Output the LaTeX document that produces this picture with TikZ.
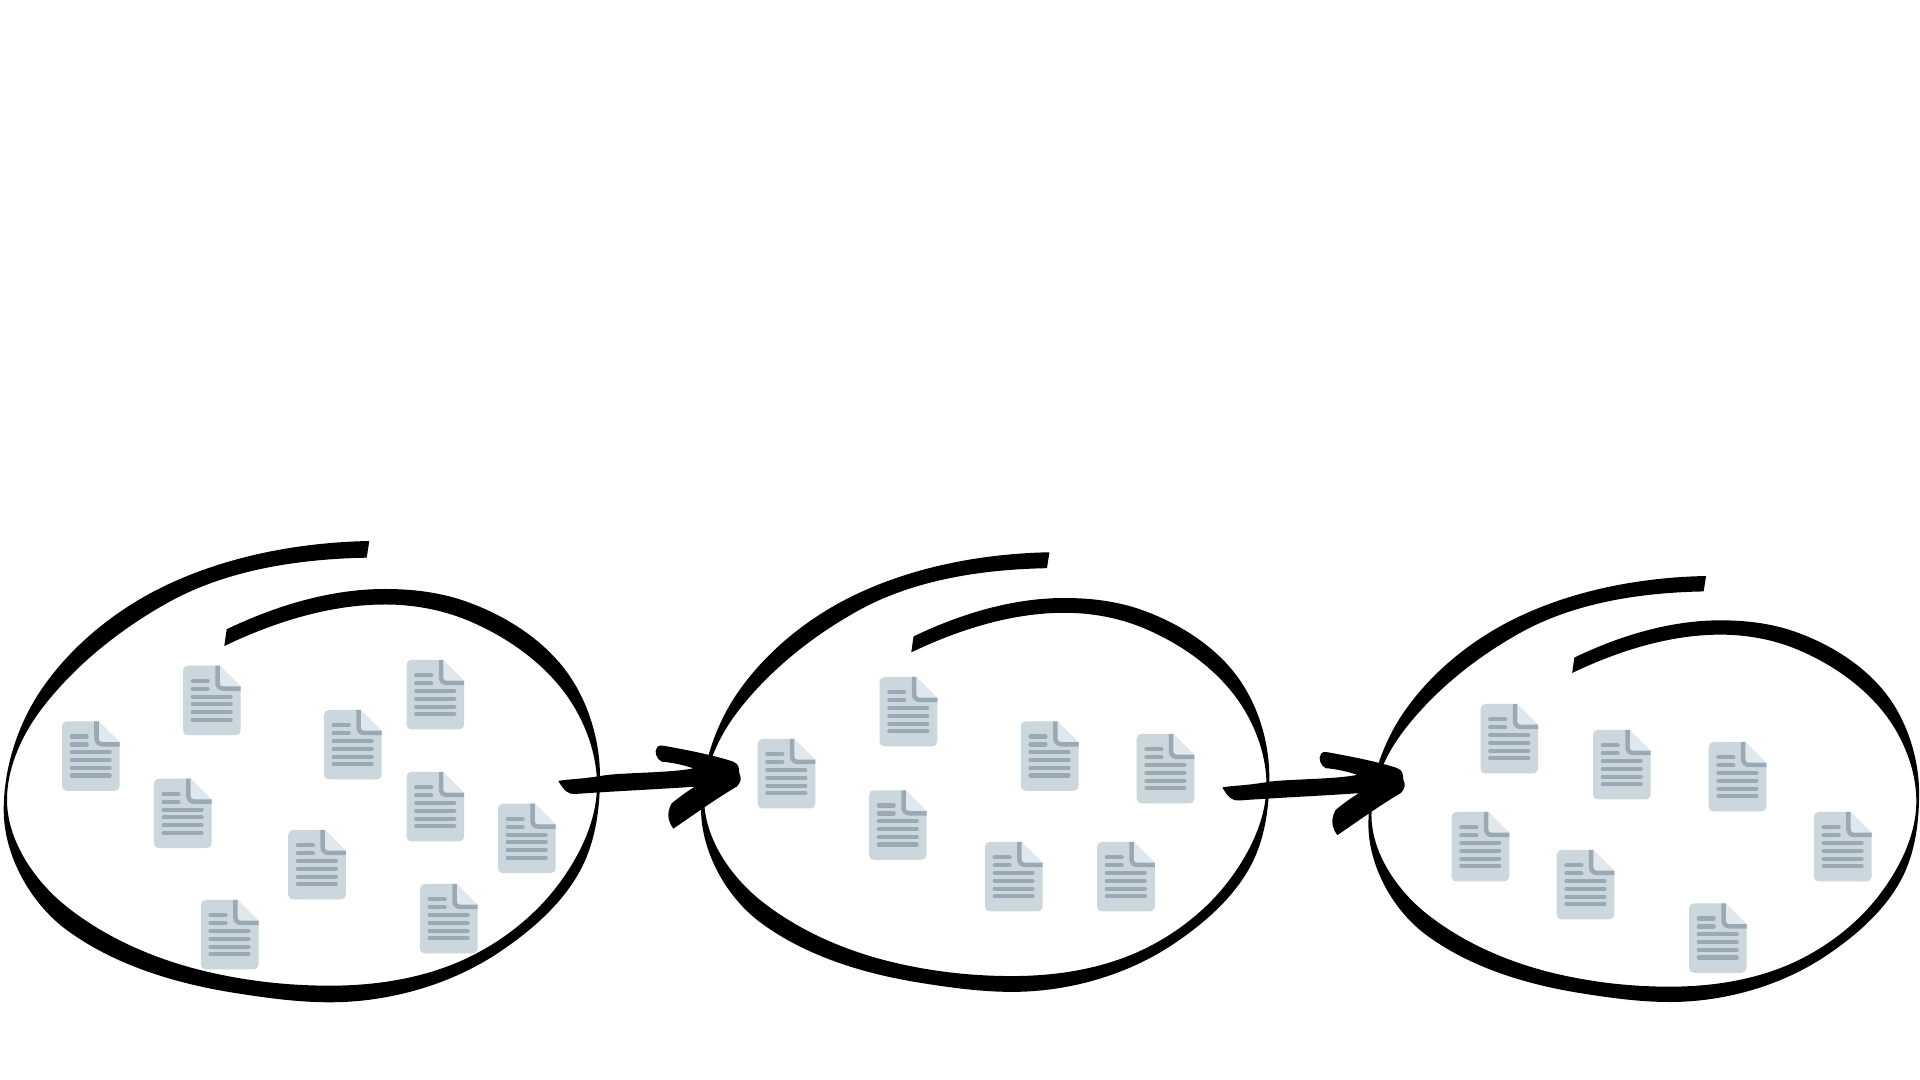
\documentclass[tikz,border=0pt]{standalone}
\definecolor{docbody}{HTML}{CCD6DD}
\definecolor{docline}{HTML}{99AAB5}
\definecolor{docfold}{HTML}{E1E8ED}
\tikzset{
  sketchink/.style={fill=black,draw=none},
  textline/.style={draw=docline,line width=0.042cm,line cap=round},
  docicon/.pic={
    \fill[docbody] (5,0) -- (36.7,0) -- (57.7,21) -- (57.7,64.5) .. controls (57.7,67.5) and (55.5,69.5) .. (52.5,69.5)
      -- (5,69.5) .. controls (2,69.5) and (0,67.5) .. (0,64.5) -- (0,5) .. controls (0,2) and (2,0) .. (5,0) -- cycle;
    \fill[docfold] (36,0) -- (36.7,0) -- (57.7,21) -- (36,21) -- cycle;
    \draw[draw=docline,line width=0.045cm] (34.5,0) -- (34.5,17) .. controls (34.5,21) and (37,23) .. (41,23) -- (57.7,23);
    \foreach \ly in {15.3,23.3}{\draw[textline] (9.7,\ly) -- (24.7,\ly);}
    \foreach \ly in {31,38.7,46.7,54.3}{\draw[textline] (9.7,\ly) -- (47.7,\ly);}
  },
  sketchblob/.pic={
    \fill[sketchink] (369.3,541)
      .. controls (300.3,542.4) and (229.1,555.5) .. (166.7,585)
      .. controls (118.5,607.8) and (73.9,643.1) .. (43.3,686.7)
      .. controls (18.5,722) and (3.7,766.8) .. (3.7,810)
      .. controls (3.7,855.2) and (30.3,903.2) .. (66.7,930)
      .. controls (114.5,965.1) and (174.8,983.3) .. (233.3,992.7)
      .. controls (265.3,997.8) and (297.6,1002.3) .. (330,1002.3)
      .. controls (389.1,1002.3) and (451,984.8) .. (500,951.7)
      .. controls (535.6,927.7) and (570.6,896.5) .. (586.7,856.7)
      .. controls (596.8,831.7) and (600,803.7) .. (600,776.7)
      .. controls (600,736.7) and (585.9,693.8) .. (560,663.3)
      .. controls (535.9,634.9) and (501.8,614.3) .. (466.7,601.7)
      .. controls (440.5,592.3) and (412.8,589) .. (385,589)
      .. controls (330.6,589) and (275.7,605.7) .. (226.7,629.3)
      -- (224.3,646)
      .. controls (274.1,622.2) and (329.7,604.5) .. (385,604.5)
      .. controls (412.7,604.5) and (441.1,609.5) .. (466.7,620)
      .. controls (502,634.5) and (535.9,657.1) .. (560,686.7)
      .. controls (582.1,713.8) and (597,750) .. (597,785)
      .. controls (597,821.5) and (578.9,857.7) .. (556.7,886.7)
      .. controls (533.4,917.1) and (501.3,941.9) .. (466.7,958.3)
      .. controls (424.7,978.2) and (376.5,985.7) .. (330,985.7)
      .. controls (286.3,985.7) and (242.4,980.6) .. (200,970)
      .. controls (152.3,958) and (105.2,937.3) .. (66.7,906.7)
      .. controls (34.8,881.3) and (7,840.8) .. (7,800)
      .. controls (7,766.6) and (22.8,733.1) .. (43.3,706.7)
      .. controls (76.3,664.3) and (119.9,629.6) .. (166.7,603.3)
      .. controls (226.3,569.8) and (298.3,559) .. (366.7,557.7)
      -- cycle;
  },
  sketcharrow/.pic={
    \fill[sketchink] (55,183) .. controls (90,176) and (110,180) .. (200,165) .. controls (260,158) and (400,158) .. (460,145)
     .. controls (430,135) and (400,128) .. (365,125) .. controls (350,118) and (342,95) .. (350,85) .. controls (352,76) and (362,75) .. (375,78)
     .. controls (440,90) and (520,105) .. (580,125) .. controls (598,133) and (597,145) .. (598,160) .. controls (606,175) and (602,188) .. (590,200)
     .. controls (530,235) and (460,285) .. (400,326) .. controls (385,305) and (378,280) .. (395,250) .. controls (420,230) and (440,215) .. (465,200)
     .. controls (350,208) and (200,215) .. (105,222) .. controls (85,224) and (72,212) .. (55,183) -- cycle;
  }
}
\begin{document}
\begin{tikzpicture}[x=0.01cm,y=-0.01cm]
\useasboundingbox (0,0) rectangle (1920,1080);
\fill[white] (0,0) rectangle (1920,1080);

% three hand-drawn loops: the same stroke at three sizes
\pic at (0,0) {sketchblob};
\pic[scale=0.953] at (697.5,36.7) {sketchblob};
\pic[scale=0.9235] at (1365,76.4) {sketchblob};

% documents
\foreach \dx/\dy in {
  62/721.3,183/665.7,324/710,406.5/660,153.9/778.7,406.5/772,498/803.7,288.2/830,420/884,200.8/900,
  757.6/739,879.6/677,1020.8/721.3,1136.7/734,869/790.3,984.9/842,1097.1/842,
  1480.5/704,1593/730,1708.7/742,1451.6/812,1813.9/812,1556.7/850,1689/903.3}{
  \pic at (\dx,\dy) {docicon};
}

% arrows
\pic[scale=0.33333] at (540,720) {sketcharrow};
\pic[scale=0.33333] at (1204,726.5) {sketcharrow};
\end{tikzpicture}
\end{document}
